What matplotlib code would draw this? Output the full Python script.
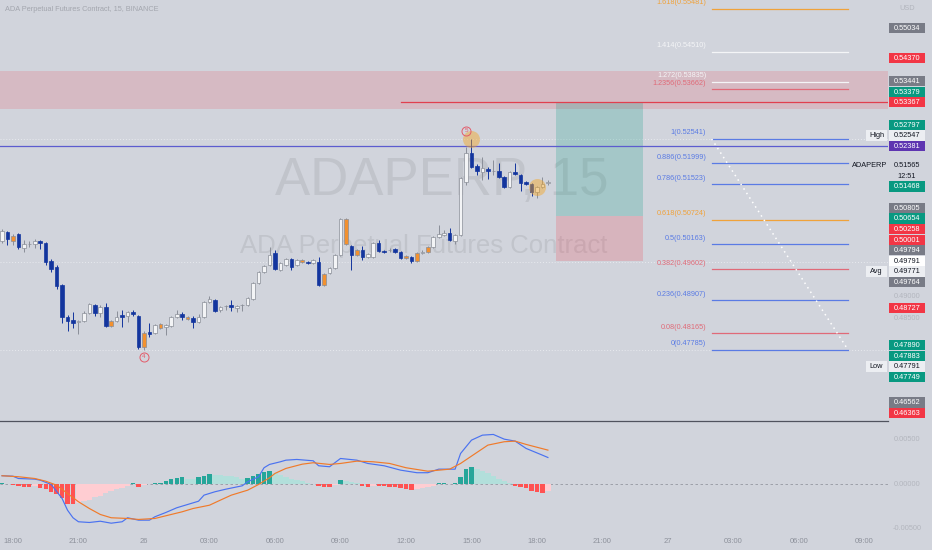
import numpy as np
import matplotlib
matplotlib.use("Agg")
import matplotlib.pyplot as plt
import matplotlib.transforms as mtrans
from matplotlib.patches import Rectangle

plt.rcParams['font.family'] = ['Liberation Sans', 'DejaVu Sans']

# ---- candles (15 min, 25th 17:30 -> 26th 18:30) ----
opens = [0.50241, 0.50445, 0.50241, 0.50400, 0.50084, 0.50174, 0.50174, 0.50241, 0.50196, 0.49791,
         0.49656, 0.49250, 0.48529, 0.48461, 0.48416, 0.48439, 0.48619, 0.48800, 0.48619, 0.48755,
         0.48326, 0.48439, 0.48574, 0.48552, 0.48642, 0.48552, 0.47853, 0.48191, 0.48168, 0.48281,
         0.48304, 0.48326, 0.48529, 0.48597, 0.48484, 0.48507, 0.48416, 0.48529, 0.48867, 0.48912,
         0.48687, 0.48777, 0.48800, 0.48732, 0.48790, 0.48800, 0.48935, 0.49295, 0.49543, 0.49701,
         0.49972, 0.49588, 0.49701, 0.49836, 0.49701, 0.49814, 0.49769, 0.49746, 0.49769, 0.49250,
         0.49520, 0.49633, 0.49927, 0.50738, 0.50129, 0.49927, 0.50039, 0.49881, 0.49881, 0.50196,
         0.50016, 0.50039, 0.50061, 0.49994, 0.49904, 0.49881, 0.49791, 0.49972, 0.49994, 0.50106,
         0.50332, 0.50377, 0.50422, 0.50241, 0.50377, 0.51572, 0.52225, 0.51932, 0.51797, 0.51865,
         0.51820, 0.51820, 0.51684, 0.51459, 0.51797, 0.51730, 0.51572, 0.51527, 0.51346, 0.51459,
         0.51549]
highs = [0.50512, 0.50467, 0.50400, 0.50422, 0.50264, 0.50241, 0.50287, 0.50264, 0.50219, 0.49836,
         0.49701, 0.49272, 0.48574, 0.48642, 0.48461, 0.48664, 0.48845, 0.48822, 0.48800, 0.48845,
         0.48461, 0.48664, 0.48687, 0.48664, 0.48687, 0.48574, 0.48213, 0.48394, 0.48371, 0.48394,
         0.48371, 0.48552, 0.48687, 0.48642, 0.48552, 0.48552, 0.48597, 0.48890, 0.49002, 0.48935,
         0.48777, 0.48800, 0.48912, 0.48800, 0.48822, 0.48980, 0.49318, 0.49566, 0.49701, 0.50106,
         0.50039, 0.49769, 0.49859, 0.49859, 0.49836, 0.49836, 0.49791, 0.49836, 0.49881, 0.49520,
         0.49656, 0.49949, 0.50760, 0.50760, 0.50151, 0.50061, 0.50129, 0.49972, 0.50219, 0.50264,
         0.50039, 0.50084, 0.50084, 0.50016, 0.49927, 0.49904, 0.49994, 0.50039, 0.50129, 0.50355,
         0.50603, 0.50490, 0.50535, 0.50400, 0.51684, 0.52361, 0.52547, 0.51977, 0.52135, 0.51910,
         0.52068, 0.52000, 0.51707, 0.51820, 0.52000, 0.51752, 0.51594, 0.51549, 0.51481, 0.51684,
         0.51617]
lows = [0.50196, 0.50151, 0.50151, 0.50061, 0.49994, 0.50106, 0.50084, 0.50061, 0.49701, 0.49543,
        0.49160, 0.48394, 0.48213, 0.48281, 0.48146, 0.48416, 0.48597, 0.48552, 0.48529, 0.48304,
        0.48304, 0.48416, 0.48304, 0.48416, 0.48552, 0.47808, 0.47785, 0.48078, 0.48146, 0.48258,
        0.48123, 0.48304, 0.48507, 0.48461, 0.48461, 0.48281, 0.48394, 0.48507, 0.48845, 0.48642,
        0.48642, 0.48687, 0.48664, 0.48642, 0.48664, 0.48777, 0.48912, 0.49272, 0.49520, 0.49679,
        0.49588, 0.49566, 0.49679, 0.49588, 0.49679, 0.49746, 0.49724, 0.49724, 0.49227, 0.49227,
        0.49498, 0.49611, 0.49904, 0.50151, 0.49588, 0.49904, 0.49814, 0.49859, 0.49859, 0.49994,
        0.49972, 0.49994, 0.49972, 0.49836, 0.49836, 0.49746, 0.49769, 0.49949, 0.49972, 0.50084,
        0.50309, 0.50355, 0.50241, 0.50174, 0.50355, 0.51504, 0.51887, 0.51730, 0.51617, 0.51639,
        0.51730, 0.51662, 0.51436, 0.51436, 0.51730, 0.51369, 0.51504, 0.51256, 0.51211, 0.51436,
        0.51504]
closes = [0.50467, 0.50287, 0.50355, 0.50106, 0.50174, 0.50178, 0.50241, 0.50196, 0.49769, 0.49611,
          0.49227, 0.48529, 0.48439, 0.48394, 0.48439, 0.48619, 0.48822, 0.48619, 0.48755, 0.48326,
          0.48439, 0.48529, 0.48529, 0.48642, 0.48597, 0.47853, 0.48168, 0.48146, 0.48349, 0.48371,
          0.48349, 0.48529, 0.48597, 0.48529, 0.48529, 0.48416, 0.48529, 0.48867, 0.48935, 0.48664,
          0.48755, 0.48780, 0.48755, 0.48777, 0.48800, 0.48957, 0.49295, 0.49543, 0.49679, 0.49927,
          0.49611, 0.49746, 0.49836, 0.49656, 0.49814, 0.49769, 0.49746, 0.49814, 0.49250, 0.49498,
          0.49633, 0.49927, 0.50738, 0.50174, 0.49927, 0.50039, 0.49881, 0.49949, 0.50196, 0.50016,
          0.49994, 0.50043, 0.49994, 0.49859, 0.49859, 0.49791, 0.49972, 0.49994, 0.50106, 0.50332,
          0.50400, 0.50422, 0.50264, 0.50377, 0.51662, 0.52225, 0.51910, 0.51820, 0.51887, 0.51820,
          0.51824, 0.51684, 0.51459, 0.51797, 0.51752, 0.51549, 0.51527, 0.51346, 0.51459, 0.51527,
          0.51565]
highlighted = [2, 20, 26, 29, 34, 55, 59, 63, 65, 74, 76, 78]

# ---- MACD panel ----
macd_hist = [0.00019, 0.00003, -0.00009, -0.00019, -0.00026, -0.00030, -0.00022, -0.00037, -0.00053, -0.00082,
             -0.00112, -0.00157, -0.00214, -0.00225, -0.00208, -0.00191, -0.00169, -0.00146, -0.00124, -0.00101,
             -0.00079, -0.00056, -0.00039, -0.00022, 0.00019, -0.00026, -0.00009, 0.00006, 0.00011, 0.00022,
             0.00037, 0.00060, 0.00075, 0.00079, 0.00067, 0.00060, 0.00079, 0.00098, 0.00112, 0.00107,
             0.00101, 0.00096, 0.00090, 0.00079, 0.00067, 0.00073, 0.00090, 0.00112, 0.00135, 0.00154,
             0.00124, 0.00101, 0.00084, 0.00067, 0.00051, 0.00034, 0.00017, 0.00006, -0.00015, -0.00026,
             -0.00030, -0.00011, 0.00048, 0.00037, 0.00025, 0.00011, -0.00019, -0.00026, -0.00013, -0.00019,
             -0.00022, -0.00026, -0.00030, -0.00045, -0.00056, -0.00064, -0.00056, -0.00045, -0.00034, -0.00017,
             0.00011, 0.00019, 0.00008, 0.00011, 0.00087, 0.00169, 0.00191, 0.00174, 0.00152, 0.00124,
             0.00096, 0.00067, 0.00034, 0.00011, -0.00013, -0.00026, -0.00045, -0.00075, -0.00090, -0.00093,
             -0.00079]
macd_idx = [0, 2, 3, 6, 7, 9, 11, 12, 13, 14, 16, 18, 20, 22, 23, 25, 27, 28, 30, 32, 34, 36, 37, 39,
            41, 44, 45, 47, 48, 49, 51, 52, 54, 57, 58, 60, 62, 65, 67, 70, 73, 76, 78, 80, 83, 84,
            86, 88, 90, 92, 94, 96, 99, 100]
macd_val = [0.00098, 0.00093, 0.00067, 0.00060, 0.00048, 0.00000, -0.00157, -0.00289, -0.00374, -0.00419,
            -0.00427, -0.00413, -0.00435, -0.00419, -0.00374, -0.00401, -0.00401, -0.00363, -0.00315, -0.00262,
            -0.00225, -0.00188, -0.00120, -0.00082, -0.00053, -0.00015, 0.00030, 0.00087, 0.00188, 0.00225,
            0.00255, 0.00273, 0.00281, 0.00266, 0.00210, 0.00199, 0.00292, 0.00273, 0.00236, 0.00210,
            0.00161, 0.00132, 0.00132, 0.00172, 0.00172, 0.00348, 0.00498, 0.00554, 0.00562, 0.00509,
            0.00487, 0.00405, 0.00329, 0.00303]
signal_idx = [0, 3, 6, 8, 10, 12, 14, 16, 18, 20, 23, 25, 28, 30, 33, 35, 38, 40, 42, 45, 47, 49, 50,
              52, 55, 57, 60, 62, 65, 68, 71, 74, 78, 82, 84, 87, 89, 92, 94, 96, 100]
signal_val = [0.00098, 0.00087, 0.00067, 0.00037, -0.00008, -0.00101, -0.00194, -0.00270, -0.00337, -0.00374,
              -0.00382, -0.00393, -0.00382, -0.00352, -0.00307, -0.00270, -0.00233, -0.00176, -0.00120, -0.00064,
              0.00000, 0.00075, 0.00124, 0.00180, 0.00228, 0.00244, 0.00225, 0.00236, 0.00262, 0.00255,
              0.00236, 0.00188, 0.00149, 0.00172, 0.00236, 0.00360, 0.00442, 0.00480, 0.00487, 0.00450,
              0.00386]

# ---- drawings ----
fib_ratios = ['1.618', '1.414', '1.272', '1.2356', '1', '0.886', '0.786', '0.618', '0.5', '0.382', '0.236', '0.08', '0']
fib_prices = [0.55481, 0.54510, 0.53835, 0.53662, 0.52541, 0.51999, 0.51523, 0.50724, 0.50163, 0.49602, 0.48907, 0.48165, 0.47785]
fib_kinds = ['orange', 'white', 'white', 'red', 'blue', 'blue', 'blue', 'orange', 'blue', 'red', 'blue', 'red', 'blue']
fib_start, fib_end = 130, 155
zone_low, zone_high = 0.53217, 0.54080
resistance = 0.53367
resistance_from = 73
mid_line = 0.52381
entry, target, stop = 0.50805, 0.53367, 0.49794
pos_start, pos_end = 101.5, 117.5
session_high, session_avg, session_low = 0.52547, 0.49771, 0.47791

tick_idx = [2, 14, 26, 38, 50, 62, 74, 86, 98, 110, 122, 134, 146, 158]
tick_labels = ['18:00', '21:00', '26', '03:00', '06:00', '09:00', '12:00', '15:00', '18:00',
               '21:00', '27', '03:00', '06:00', '09:00']

tag_prices = [0.55034, 0.54370, 0.53441, 0.53379, 0.53367, 0.52797, 0.52547, 0.52381, 0.51565, 0.51468,
              0.50805, 0.50654, 0.50258, 0.50001, 0.49794, 0.49791, 0.49771, 0.49764, 0.48727, 0.47890,
              0.47883, 0.47791, 0.47749, 0.46562, 0.46363]
tag_kinds = ['gray', 'red', 'gray', 'green', 'red', 'green', 'light', 'purple', 'last', 'green',
             'gray', 'green', 'red', 'red', 'gray', 'white', 'light', 'gray', 'red', 'green',
             'green', 'light', 'green', 'gray', 'red']
tag_pinned = [4, 7, 9, 15, 19, 24]
tag_side = {6: 'High', 16: 'Avg', 21: 'Low'}

BG = '#d1d4dc'
UP = '#f3f4f6'
DOWN = '#13359e'
ORANGE = '#f29130'
EDGE = '#8a8e98'
FIBC = {'orange': '#f0a23a', 'white': '#f4f5f7', 'red': '#e06a78', 'blue': '#5a7be4'}
TAGC = {'gray': '#787b86', 'red': '#f23645', 'green': '#089981', 'purple': '#5e35b1',
        'light': '#eceef2', 'white': '#ffffff'}
FAINT = '#b3b6be'

W, H = 932, 550
fig = plt.figure(figsize=(W / 100, H / 100), dpi=100)
fig.patch.set_facecolor(BG)

ax = fig.add_axes([0, 130 / H, 888 / W, 420 / H])
ax2 = fig.add_axes([0, 18 / H, 888 / W, 111 / H])
ov = fig.add_axes([0, 0, 1, 1], zorder=10)
ov.set_xlim(0, W)
ov.set_ylim(H, 0)
ov.axis('off')

for a in (ax, ax2):
    a.set_facecolor(BG)
    a.set_xlim(-0.37, 162.3)
    for s in a.spines.values():
        s.set_visible(False)
ax.set_ylim(0.46206, 0.55674)
ax.set_xticks([])
ax.set_yticks([])
ax2.set_ylim(-0.00534, 0.00713)
ax2.set_yticks([])

# watermark
ax.text(0.497, 0.569, 'ADAPERP, 15', transform=ax.transAxes, ha='center', va='center',
        fontsize=38, color='#c1c4cb', zorder=0)
ax.text(0.477, 0.414, 'ADA Perpetual Futures Contract', transform=ax.transAxes, ha='center',
        va='center', fontsize=18.5, color='#c1c4cb', zorder=0)

# zones / lines
ax.axhspan(zone_low, zone_high, color='#f23645', alpha=0.16, lw=0, zorder=1)
ax.plot([resistance_from, 162.3], [resistance, resistance], color='#e0404f', lw=0.9, zorder=2)
ax.axhline(mid_line, color='#5c5ccf', lw=0.9, zorder=2)
for p in (session_high, session_avg, session_low):
    ax.axhline(p, color='#e8eaef', lw=0.7, ls=(0, (1, 2)), zorder=1)

# long position tool
ax.fill_between([pos_start, pos_end], entry, target, color='#089981', alpha=0.22, lw=0, zorder=1)
ax.fill_between([pos_start, pos_end], stop, entry, color='#f23645', alpha=0.2, lw=0, zorder=1)

# fib
lab_tr = mtrans.offset_copy(ax.transData, fig=fig, y=2.5, units='dots')
for r, p, k in zip(fib_ratios, fib_prices, fib_kinds):
    ax.plot([fib_start, fib_end], [p, p], color=FIBC[k], lw=0.9, zorder=2)
    ax.text(fib_start - 1, p, f'{r}({p:.5f})', transform=lab_tr, ha='right', va='bottom',
            fontsize=5.2, color=FIBC[k], zorder=3)
ax.plot([fib_start, fib_end], [fib_prices[4], fib_prices[-1]], color='white', lw=1.1,
        ls=(0, (1, 2.5)), zorder=2)

# candles
o = np.array(opens)
c = np.array(closes)
x = np.arange(len(o))
face, wick = [], []
for i in range(len(o)):
    if i in highlighted:
        face.append(ORANGE); wick.append(EDGE)
    elif c[i] >= o[i]:
        face.append(UP); wick.append(EDGE)
    else:
        face.append(DOWN); wick.append(DOWN)
ax.vlines(x, lows, highs, colors=wick, lw=0.7, zorder=3)
ax.bar(x, np.maximum(np.abs(c - o), 0.00008), bottom=np.minimum(o, c), width=0.66,
       color=face, edgecolor=wick, linewidth=0.5, zorder=4)

# markers
peak = int(np.argmax(highs))
trough = int(np.argmin(lows))
ax.scatter([peak, 98], [highs[peak], closes[98]], s=150, color='#f5a623', alpha=0.45, lw=0, zorder=5)
for xi, yi, dy, t in [(peak - 1, highs[peak], 8, '5'), (trough, lows[trough], -7, '4')]:
    tr = mtrans.offset_copy(ax.transData, fig=fig, y=dy, units='dots')
    ax.plot([xi], [yi], 'o', ms=6.5, mfc='none', mec='#e35b6a', mew=0.7, transform=tr, zorder=6)
    ax.text(xi, yi, t, transform=tr, ha='center', va='center', fontsize=4.5, color='#e35b6a', zorder=6)

# MACD
hist = np.array(macd_hist)
hcol, hw = [], []
for i, v in enumerate(hist):
    prev = hist[i - 1] if i > 0 else 0
    if v >= 0:
        strong = v >= prev
        hcol.append('#26a69a' if strong else '#b2dfdb')
    else:
        strong = v <= prev
        hcol.append('#ff5252' if strong else '#ffcdd2')
    hw.append(0.8 if strong else 1.0)
ax2.bar(x, hist, width=hw, color=hcol, lw=0, zorder=2)
ax2.axhline(0, color='#9598a1', lw=0.6, ls=(0, (3, 3)), zorder=1)
ax2.plot(macd_idx, macd_val, color='#4a72f0', lw=0.85, zorder=3)
ax2.plot(signal_idx, signal_val, color='#f07a2a', lw=0.85, zorder=3)
ax2.set_xticks(tick_idx)
ax2.set_xticklabels(tick_labels)
ax2.tick_params(axis='x', length=0, pad=4, labelsize=5.5, labelcolor='#8d919b')


def img_y(a, v):
    return H - a.transData.transform((0, v))[1]


# right scale: price tags, spread so they do not overlap
n = len(tag_prices)
want = [img_y(ax, p) for p in tag_prices]
hgt = [21.0 if k == 'last' else 10.6 for k in tag_kinds]
order = sorted(range(n), key=lambda k: want[k])
pos = [None] * n
chain, prev_bottom = False, -1e9
for k in order:
    if k in tag_pinned:
        pos[k] = want[k]
        chain = True
    elif chain and want[k] - hgt[k] / 2 < prev_bottom:
        pos[k] = prev_bottom + hgt[k] / 2
    else:
        chain = False
        continue
    prev_bottom = pos[k] + hgt[k] / 2
next_top = 1e9
for k in reversed(order):
    if pos[k] is None:
        pos[k] = min(want[k], next_top - hgt[k] / 2)
    next_top = pos[k] - hgt[k] / 2

# right scale: faint ticks, hidden where a tag sits on them
ov.text(907, 8, 'USD', ha='center', va='center', fontsize=5.3, color=FAINT, zorder=1)
for v in np.arange(0.465, 0.5501, 0.005):
    yy = img_y(ax, v)
    if all(abs(yy - pos[k]) > (hgt[k] / 2 + 4) for k in range(n)):
        ov.text(907, yy, f'{v:.5f}', ha='center', va='center', fontsize=5.3, color=FAINT, zorder=1)
for v in (0.005, 0.0, -0.005):
    ov.text(907, img_y(ax2, v), f'{v:.5f}', ha='center', va='center', fontsize=5.3, color=FAINT, zorder=1)

for k in range(n):
    y = pos[k]
    kind = tag_kinds[k]
    txt = f'{tag_prices[k]:.5f}'
    if kind == 'last':
        ov.text(907, y - 5, txt, ha='center', va='center', fontsize=5.3, color='#131722', zorder=3)
        ov.text(907, y + 5.5, '12:51', ha='center', va='center', fontsize=5.3, color='#131722', zorder=3)
        ov.text(870, y - 5, 'ADAPERP', ha='center', va='center', fontsize=5.3, color='#131722', zorder=3)
        continue
    ov.add_patch(Rectangle((889, y - 5.1), 36, 10.2, color=TAGC[kind], lw=0, zorder=2))
    tc = '#131722' if kind in ('light', 'white') else 'white'
    ov.text(907, y + 0.3, txt, ha='center', va='center', fontsize=5.3, color=tc, zorder=3)
    if k in tag_side:
        ov.add_patch(Rectangle((866, y - 5.1), 21, 10.2, color=TAGC['light'], lw=0, zorder=2))
        ov.text(876.5, y + 0.3, tag_side[k], ha='center', va='center', fontsize=5.3,
                color='#131722', zorder=3)

# header + pane separator
ov.text(5, 9.5, 'ADA Perpetual Futures Contract, 15, BINANCE', ha='left', va='center',
        fontsize=5.3, color='#a3a6ae')
ov.plot([0, 888], [420.5, 420.5], color='#50535e', lw=0.9)

fig.savefig('out.png', dpi=100, facecolor=BG)
